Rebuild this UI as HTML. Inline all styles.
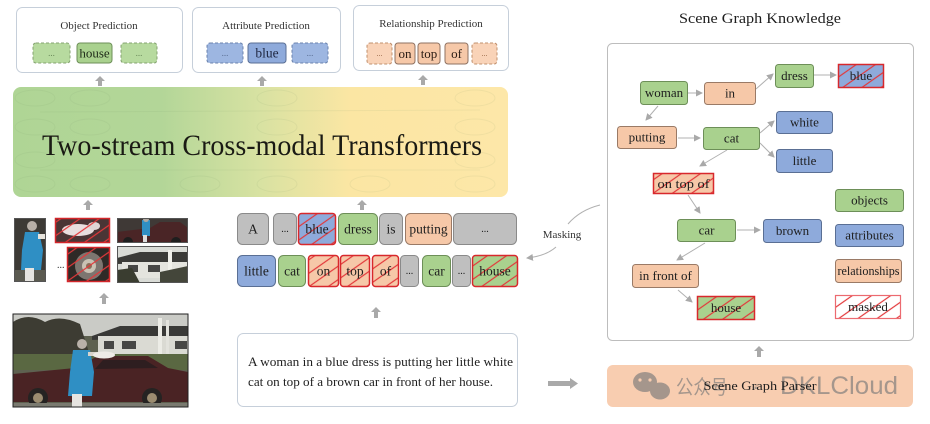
<!DOCTYPE html>
<html><head><meta charset="utf-8">
<style>html,body{margin:0;padding:0;background:#fff;width:930px;height:424px;overflow:hidden}svg{display:block}</style>
</head><body>
<svg width="930" height="424" viewBox="0 0 930 424" xmlns="http://www.w3.org/2000/svg" font-family="'Liberation Serif', serif">
<defs>
<linearGradient id="band" x1="0" x2="1" y1="0" y2="0">
<stop offset="0" stop-color="#afd595"/><stop offset="0.3" stop-color="#b3d698"/><stop offset="0.5" stop-color="#d8e2a2"/><stop offset="0.68" stop-color="#fbe6a3"/><stop offset="1" stop-color="#fde7a8"/>
</linearGradient>
<pattern id="hatch" width="11" height="11" patternUnits="userSpaceOnUse" patternTransform="rotate(-35)"><line x1="0" y1="5" x2="11" y2="5" stroke="#e2383a" stroke-width="1.2"/></pattern>
<marker id="ah" markerWidth="7" markerHeight="7" refX="6" refY="3.5" orient="auto" markerUnits="userSpaceOnUse"><path d="M0,0 L7,3.5 L0,7 z" fill="#a9a9a9"/></marker>
<clipPath id="cBig"><rect x="13" y="314" width="175" height="93"/></clipPath>
<clipPath id="cW"><rect x="14" y="218" width="32" height="64"/></clipPath>
<clipPath id="cCat"><rect x="55" y="218" width="55" height="25"/></clipPath>
<clipPath id="cWh"><rect x="67" y="247" width="43" height="35"/></clipPath>
<clipPath id="cCar"><rect x="117" y="218" width="71" height="25"/></clipPath>
<clipPath id="cH"><rect x="117" y="246" width="71" height="37"/></clipPath>
</defs>

<!-- Top prediction boxes -->
<rect x="16.5" y="7.5" width="166" height="65" rx="6" fill="#fff" stroke="#c6cfda"/>
<text x="99" y="29" text-anchor="middle" font-size="11" fill="#333">Object Prediction</text>
<rect x="33" y="43" width="37" height="20" rx="3" fill="#b7da9f" stroke="#85a372" stroke-dasharray="3,2"/>
<text x="51.5" y="56" text-anchor="middle" font-size="9" fill="#6a8a5a">...</text>
<rect x="77" y="43" width="35" height="20" rx="3" fill="#a9d18e" stroke="#6d8f58"/>
<text x="94.5" y="57.5" text-anchor="middle" font-size="13" fill="#1e2a18">house</text>
<rect x="121" y="43" width="36" height="20" rx="3" fill="#b7da9f" stroke="#85a372" stroke-dasharray="3,2"/>
<text x="139" y="56" text-anchor="middle" font-size="9" fill="#6a8a5a">...</text>

<rect x="192.5" y="7.5" width="148" height="65" rx="6" fill="#fff" stroke="#c6cfda"/>
<text x="266" y="29" text-anchor="middle" font-size="11" fill="#333">Attribute Prediction</text>
<rect x="207" y="43" width="36" height="20" rx="3" fill="#9db6e1" stroke="#6b83ad" stroke-dasharray="3,2"/>
<text x="225" y="56" text-anchor="middle" font-size="9" fill="#5a6f94">...</text>
<rect x="248" y="43" width="38" height="20" rx="3" fill="#8eaadb" stroke="#5a6f94"/>
<text x="267" y="57.5" text-anchor="middle" font-size="13.5" fill="#1e2640">blue</text>
<rect x="292" y="43" width="36" height="20" rx="3" fill="#9db6e1" stroke="#6b83ad" stroke-dasharray="3,2"/>
<text x="310" y="56" text-anchor="middle" font-size="9" fill="#5a6f94">...</text>

<rect x="353.5" y="5.5" width="155" height="65" rx="6" fill="#fff" stroke="#c6cfda"/>
<text x="431" y="27" text-anchor="middle" font-size="11" fill="#333">Relationship Prediction</text>
<rect x="367" y="43" width="25" height="21" rx="3" fill="#f9d3b8" stroke="#c0906e" stroke-dasharray="3,2"/>
<text x="379.5" y="56" text-anchor="middle" font-size="8" fill="#a07050">...</text>
<rect x="395" y="43" width="20" height="21" rx="3" fill="#f6c8a8" stroke="#8f7262"/>
<text x="405" y="58" text-anchor="middle" font-size="13" fill="#2a1c14">on</text>
<rect x="418" y="43" width="22" height="21" rx="3" fill="#f6c8a8" stroke="#8f7262"/>
<text x="429" y="58" text-anchor="middle" font-size="13" fill="#2a1c14">top</text>
<rect x="445" y="43" width="23" height="21" rx="3" fill="#f6c8a8" stroke="#8f7262"/>
<text x="456.5" y="58" text-anchor="middle" font-size="13" fill="#2a1c14">of</text>
<rect x="472" y="43" width="25" height="21" rx="3" fill="#f9d3b8" stroke="#c0906e" stroke-dasharray="3,2"/>
<text x="484.5" y="56" text-anchor="middle" font-size="8" fill="#a07050">...</text>

<!-- up arrows -->
<g fill="#a9a9a9">
<polygon points="95,81 100,76 105,81 102,81 102,86 98,86 98,81"/>
<polygon points="257,81 262,76 267,81 264,81 264,86 260,86 260,81"/>
<polygon points="418,80 423,75 428,80 425,80 425,85 421,85 421,80"/>
<polygon points="83,205 88,200 93,205 90,205 90,210 86,210 86,205"/>
<polygon points="357,205 362,200 367,205 364,205 364,210 360,210 360,205"/>
<polygon points="99,298 104,293 109,298 106,298 106,304 102,304 102,298"/>
<polygon points="371,312 376,307 381,312 378,312 378,318 374,318 374,312"/>
<polygon points="754,351 759,346 764,351 761,351 761,357 757,357 757,351"/>
<polygon points="548,381 570,381 570,378 578,383.5 570,389 570,386 548,386"/>
</g>

<!-- Transformer band -->
<rect x="13" y="87" width="495" height="110" rx="8" fill="url(#band)"/>
<g fill="none" stroke="#6f8f5f" stroke-opacity="0.09" stroke-width="1">
<ellipse cx="35" cy="98" rx="20" ry="8"/><ellipse cx="90" cy="98" rx="20" ry="8"/><ellipse cx="277" cy="98" rx="20" ry="8"/><ellipse cx="475" cy="98" rx="20" ry="8"/>
<ellipse cx="35" cy="127" rx="20" ry="8"/><ellipse cx="90" cy="127" rx="20" ry="8"/><ellipse cx="277" cy="127" rx="20" ry="8"/><ellipse cx="475" cy="127" rx="20" ry="8"/>
<ellipse cx="35" cy="160" rx="20" ry="8"/><ellipse cx="475" cy="160" rx="20" ry="8"/>
<ellipse cx="35" cy="184" rx="20" ry="8"/><ellipse cx="90" cy="184" rx="20" ry="8"/><ellipse cx="200" cy="184" rx="20" ry="8"/><ellipse cx="277" cy="184" rx="20" ry="8"/><ellipse cx="370" cy="184" rx="20" ry="8"/><ellipse cx="475" cy="184" rx="20" ry="8"/>
<line x1="40" y1="112" x2="480" y2="110"/><line x1="40" y1="170" x2="480" y2="170"/>
</g>
<text x="262" y="155" text-anchor="middle" font-size="30" fill="#1a1a14" textLength="440" lengthAdjust="spacingAndGlyphs">Two-stream Cross-modal Transformers</text>

<!-- Small crops -->
<g clip-path="url(#cW)">
<rect x="14" y="218" width="32" height="64" fill="#3d3a35"/>
<rect x="14" y="270" width="32" height="12" fill="#5b5a50"/>
<circle cx="32" cy="226" r="5" fill="#b7afa7"/>
<polygon points="25,232 39,232 43,250 41,270 21,270 22,250" fill="#2f8fc4"/>
<rect x="38" y="234" width="8" height="5" fill="#e8e4dc"/>
<rect x="25" y="268" width="9" height="14" fill="#e6e4e0"/>
</g>
<rect x="14.5" y="218.5" width="31" height="63" fill="none" stroke="#555" stroke-width="1"/>

<g clip-path="url(#cCat)">
<rect x="55" y="218" width="55" height="25" fill="#4a3535"/>
<ellipse cx="78" cy="230" rx="16" ry="6" fill="#e8dede"/>
<ellipse cx="94" cy="226" rx="6" ry="4" fill="#e0d4d4"/>
<rect x="55" y="218" width="55" height="25" fill="url(#hatch)"/>
</g>
<rect x="55.5" y="218.5" width="54" height="24" fill="none" stroke="#d3262a" stroke-width="1.5"/>

<text x="57" y="268" font-size="10" fill="#333">...</text>

<g clip-path="url(#cWh)">
<rect x="67" y="247" width="43" height="35" fill="#2e2a27"/>
<circle cx="89" cy="266" r="14" fill="#7d7670"/>
<circle cx="89" cy="266" r="7" fill="#c9c2b4"/>
<circle cx="89" cy="266" r="3" fill="#8a6f5a"/>
<rect x="67" y="247" width="43" height="35" fill="url(#hatch)"/>
</g>
<rect x="67.5" y="247.5" width="42" height="34" fill="none" stroke="#d3262a" stroke-width="1.5"/>

<g clip-path="url(#cCar)">
<rect x="117" y="218" width="71" height="25" fill="#3f3936"/>
<path d="M117 232 L150 228 L160 222 L180 222 L188 228 L188 243 L117 243Z" fill="#4a2526"/>
<rect x="142" y="220" width="8" height="16" fill="#2f8fc4"/>
<circle cx="146" cy="219" r="3" fill="#b0a8a0"/>
<rect x="143" y="235" width="4" height="8" fill="#ddd"/>
<circle cx="128" cy="242" r="5" fill="#1e1e1e"/><circle cx="176" cy="242" r="5" fill="#1e1e1e"/>
</g>
<rect x="117.5" y="218.5" width="70" height="24" fill="none" stroke="#555" stroke-width="1"/>

<g clip-path="url(#cH)">
<rect x="117" y="246" width="71" height="37" fill="#d9dbd6"/>
<polygon points="117,258 140,252 188,252 188,262 117,264" fill="#3b3b38"/>
<rect x="122" y="262" width="66" height="16" fill="#e4e4de"/>
<rect x="128" y="265" width="10" height="7" fill="#474745"/>
<rect x="148" y="265" width="12" height="7" fill="#474745"/>
<rect x="168" y="250" width="4" height="30" fill="#f0f0ea"/>
<path d="M117 270 L132 268 L140 283 L117 283Z" fill="#3a3d30"/>
<path d="M160 272 L188 266 L188 283 L160 283Z" fill="#44463a"/>
</g>
<rect x="117.5" y="246.5" width="70" height="36" fill="none" stroke="#555" stroke-width="1"/>

<!-- Big photo -->
<g clip-path="url(#cBig)">
<rect x="13" y="314" width="175" height="93" fill="#5e6150"/>
<rect x="13" y="314" width="175" height="22" fill="#cacbc6"/>
<path d="M13 322 Q28 312 45 322 Q60 314 80 324 L92 362 L13 362Z" fill="#3d3c33"/>
<polygon points="92,336 120,326 188,326 188,336 92,340" fill="#393937"/>
<rect x="98" y="336" width="90" height="22" fill="#dadad3"/>
<rect x="104" y="341" width="10" height="8" fill="#474745"/>
<rect x="122" y="341" width="14" height="8" fill="#474745"/>
<rect x="175" y="341" width="12" height="8" fill="#474745"/>
<rect x="158" y="318" width="4" height="42" fill="#ecece6"/>
<rect x="166" y="320" width="3" height="40" fill="#e2e2dc"/>
<rect x="13" y="354" width="175" height="16" fill="#5a6842"/>
<path d="M13 374 L75 368 L98 356 L148 356 L168 368 L188 372 L188 402 L13 402Z" fill="#4a2324"/>
<path d="M103 360 L145 360 L158 368 L95 369Z" fill="#2e1e20"/>
<circle cx="38" cy="398" r="10" fill="#252322"/><circle cx="38" cy="398" r="5" fill="#9b8c70"/>
<circle cx="152" cy="398" r="10" fill="#252322"/><circle cx="152" cy="398" r="5" fill="#9b8c70"/>
<rect x="13" y="403" width="175" height="4" fill="#7a7a70"/>
<circle cx="82" cy="344" r="5" fill="#b9b1a9"/>
<polygon points="73,350 90,350 94,372 92,396 68,396 70,372" fill="#2f8fc4"/>
<rect x="88" y="352" width="14" height="4" fill="#d8d4cc"/>
<rect x="72" y="394" width="10" height="13" fill="#e6e4e0"/>
<ellipse cx="104" cy="355" rx="11" ry="3.5" fill="#efebe6"/>
</g>
<rect x="13" y="314" width="175" height="93" fill="none" stroke="#222" stroke-width="1"/>

<!-- Token row 1 -->
<g font-size="13.5" text-anchor="middle" fill="#1e1e1e">
<rect x="237.5" y="213.5" width="31" height="31" rx="5" fill="#bfbfbf" stroke="#8a8a8a"/>
<text x="253" y="233.5">A</text>
<rect x="273.5" y="213.5" width="23" height="31" rx="5" fill="#bfbfbf" stroke="#8a8a8a"/>
<text x="285" y="232" font-size="10">...</text>
<rect x="298.5" y="213.5" width="37" height="31" rx="3" fill="#8eaadb"/>
<rect x="298.5" y="213.5" width="37" height="31" rx="3" fill="url(#hatch)" stroke="#d8282c" stroke-width="1.5"/>
<text x="317" y="233.5">blue</text>
<rect x="338.5" y="213.5" width="39" height="31" rx="5" fill="#a9d18e" stroke="#6d8f58"/>
<text x="358" y="233.5">dress</text>
<rect x="379.5" y="213.5" width="23" height="31" rx="5" fill="#bfbfbf" stroke="#8a8a8a"/>
<text x="391" y="233.5">is</text>
<rect x="405.5" y="213.5" width="46" height="31" rx="5" fill="#f6c8a8" stroke="#9a7a66"/>
<text x="428.5" y="233.5">putting</text>
<rect x="453.5" y="213.5" width="63" height="31" rx="5" fill="#bfbfbf" stroke="#8a8a8a"/>
<text x="485" y="232" font-size="10">...</text>

<!-- Token row 2 -->
<rect x="237.5" y="255.5" width="38" height="31" rx="5" fill="#8eaadb" stroke="#5a6f94"/>
<text x="256.5" y="275.5">little</text>
<rect x="278.5" y="255.5" width="27" height="31" rx="5" fill="#a9d18e" stroke="#6d8f58"/>
<text x="292" y="275.5">cat</text>
<rect x="308.5" y="255.5" width="30" height="31" rx="3" fill="#f6c8a8"/>
<rect x="308.5" y="255.5" width="30" height="31" rx="3" fill="url(#hatch)" stroke="#d8282c" stroke-width="1.5"/>
<text x="323.5" y="275.5">on</text>
<rect x="340.5" y="255.5" width="29" height="31" rx="3" fill="#f6c8a8"/>
<rect x="340.5" y="255.5" width="29" height="31" rx="3" fill="url(#hatch)" stroke="#d8282c" stroke-width="1.5"/>
<text x="355" y="275.5">top</text>
<rect x="372.5" y="255.5" width="26" height="31" rx="3" fill="#f6c8a8"/>
<rect x="372.5" y="255.5" width="26" height="31" rx="3" fill="url(#hatch)" stroke="#d8282c" stroke-width="1.5"/>
<text x="385.5" y="275.5">of</text>
<rect x="400.5" y="255.5" width="18" height="31" rx="4" fill="#bfbfbf" stroke="#8a8a8a"/>
<text x="409.5" y="274" font-size="10">...</text>
<rect x="422.5" y="255.5" width="28" height="31" rx="5" fill="#a9d18e" stroke="#6d8f58"/>
<text x="436.5" y="275.5">car</text>
<rect x="452.5" y="255.5" width="18" height="31" rx="4" fill="#bfbfbf" stroke="#8a8a8a"/>
<text x="461.5" y="274" font-size="10">...</text>
<rect x="472.5" y="255.5" width="45" height="31" rx="3" fill="#a9d18e"/>
<rect x="472.5" y="255.5" width="45" height="31" rx="3" fill="url(#hatch)" stroke="#d8282c" stroke-width="1.5"/>
<text x="495" y="275.5">house</text>
</g>

<!-- Masking curve -->
<path d="M600 205 Q580 210 568 224" fill="none" stroke="#b0b0b0" stroke-width="1"/>
<text x="562" y="238" text-anchor="middle" font-size="11" fill="#333">Masking</text>
<path d="M556 247 Q546 256 527 258" fill="none" stroke="#b0b0b0" stroke-width="1" marker-end="url(#ah)"/>

<!-- Text box -->
<rect x="237.5" y="333.5" width="280" height="73" rx="6" fill="#fff" stroke="#c6cfda"/>
<text x="248" y="366" font-size="12.5" fill="#1e1e1e" textLength="265" lengthAdjust="spacingAndGlyphs">A woman in a blue dress is putting her little white</text>
<text x="248" y="386" font-size="12.5" fill="#1e1e1e" textLength="245" lengthAdjust="spacingAndGlyphs">cat on top of a brown car in front of her house.</text>

<!-- Scene Graph Knowledge -->
<text x="760" y="23" text-anchor="middle" font-size="15" fill="#1e1e1e" textLength="162" lengthAdjust="spacingAndGlyphs">Scene Graph Knowledge</text>
<rect x="607.5" y="43.5" width="306" height="297" rx="5" fill="#fff" stroke="#bdbdbd"/>

<!-- edges -->
<g stroke="#b0b0b0" stroke-width="1" fill="none" marker-end="url(#ah)">
<line x1="688" y1="93" x2="702" y2="93"/>
<line x1="756" y1="89" x2="773" y2="74"/>
<line x1="814" y1="75" x2="836" y2="75"/>
<line x1="658" y1="106" x2="646" y2="120"/>
<line x1="678" y1="138" x2="700" y2="138"/>
<line x1="760" y1="133" x2="774" y2="121"/>
<line x1="760" y1="143" x2="774" y2="157"/>
<line x1="727" y1="150" x2="700" y2="166"/>
<line x1="688" y1="195" x2="700" y2="213"/>
<line x1="737" y1="230" x2="760" y2="230"/>
<line x1="705" y1="243" x2="677" y2="260"/>
<line x1="678" y1="290" x2="692" y2="302"/>
</g>

<!-- nodes -->
<g font-size="13" text-anchor="middle" fill="#1e1e1e">
<rect x="640.5" y="81.5" width="47" height="23" rx="3" fill="#a9d18e" stroke="#6d8f58"/>
<text x="664" y="97">woman</text>
<rect x="704.5" y="82.5" width="51" height="22" rx="3" fill="#f6c8a8" stroke="#9a7a66"/>
<text x="730" y="97.5">in</text>
<rect x="775.5" y="64.5" width="38" height="23" rx="3" fill="#a9d18e" stroke="#6d8f58"/>
<text x="794.5" y="80">dress</text>
<rect x="838.5" y="64.5" width="45" height="23" fill="#8eaadb"/>
<rect x="838.5" y="64.5" width="45" height="23" fill="url(#hatch)" stroke="#d8282c" stroke-width="1.5"/>
<text x="861" y="80">blue</text>
<rect x="617.5" y="126.5" width="59" height="22" rx="3" fill="#f6c8a8" stroke="#9a7a66"/>
<text x="647" y="141.5">putting</text>
<rect x="703.5" y="127.5" width="56" height="22" rx="3" fill="#a9d18e" stroke="#6d8f58"/>
<text x="731.5" y="142.5">cat</text>
<rect x="776.5" y="111.5" width="56" height="22" rx="3" fill="#8eaadb" stroke="#5a6f94"/>
<text x="804.5" y="126.5">white</text>
<rect x="776.5" y="149.5" width="56" height="23" rx="3" fill="#8eaadb" stroke="#5a6f94"/>
<text x="804.5" y="165">little</text>
<rect x="653.5" y="173.5" width="60" height="20" fill="#f6c8a8"/>
<rect x="653.5" y="173.5" width="60" height="20" fill="url(#hatch)" stroke="#d8282c" stroke-width="1.5"/>
<text x="683.5" y="188" textLength="52" lengthAdjust="spacingAndGlyphs">on top of</text>
<rect x="835.5" y="189.5" width="68" height="22" rx="3" fill="#a9d18e" stroke="#6d8f58"/>
<text x="869.5" y="204.5">objects</text>
<rect x="677.5" y="219.5" width="58" height="22" rx="3" fill="#a9d18e" stroke="#6d8f58"/>
<text x="706.5" y="234.5">car</text>
<rect x="763.5" y="219.5" width="58" height="23" rx="3" fill="#8eaadb" stroke="#5a6f94"/>
<text x="792.5" y="235">brown</text>
<rect x="835.5" y="224.5" width="68" height="22" rx="3" fill="#8eaadb" stroke="#5a6f94"/>
<text x="869.5" y="239.5">attributes</text>
<rect x="632.5" y="264.5" width="66" height="23" rx="3" fill="#f6c8a8" stroke="#9a7a66"/>
<text x="665.5" y="280">in front of</text>
<rect x="835.5" y="259.5" width="66" height="23" rx="3" fill="#f6c8a8" stroke="#9a7a66"/>
<text x="868.5" y="275" textLength="62" lengthAdjust="spacingAndGlyphs">relationships</text>
<rect x="697.5" y="296.5" width="57" height="23" fill="#a9d18e"/>
<rect x="697.5" y="296.5" width="57" height="23" fill="url(#hatch)" stroke="#d8282c" stroke-width="1.5"/>
<text x="726" y="312">house</text>
<rect x="835.5" y="295.5" width="65" height="23" fill="#fff"/>
<rect x="835.5" y="295.5" width="65" height="23" fill="url(#hatch)" stroke="#ec6a70" stroke-width="1.2"/>
<text x="868" y="311">masked</text>
</g>

<!-- Parser -->
<rect x="607" y="365" width="306" height="42" rx="6" fill="#f8cdb0"/>
<g opacity="0.65" fill="#7a7a7a">
<ellipse cx="645" cy="382" rx="12" ry="10"/>
<ellipse cx="660" cy="391" rx="10" ry="8.5"/>
<text x="676" y="394" font-family="'Liberation Sans','Noto Sans CJK SC',sans-serif" font-size="20" textLength="52" lengthAdjust="spacingAndGlyphs">公众号</text>
<text x="752" y="394" font-family="'Liberation Sans',sans-serif" font-size="22">·</text>
<text x="780" y="394" font-family="'Liberation Sans',sans-serif" font-size="25" textLength="118" lengthAdjust="spacingAndGlyphs">DKLCloud</text>
</g>
<circle cx="640" cy="380" r="1.6" fill="#f8cdb0"/><circle cx="650" cy="380" r="1.6" fill="#f8cdb0"/>
<text x="760" y="390" text-anchor="middle" font-size="13" fill="#1e1e1e" textLength="113" lengthAdjust="spacingAndGlyphs">Scene Graph Parser</text>
</svg>
</body></html>
